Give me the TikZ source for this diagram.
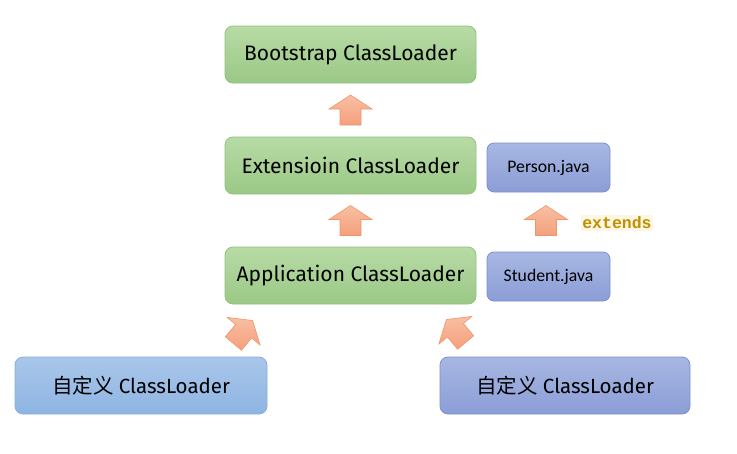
\documentclass[tikz,border=0pt]{standalone}
\usepackage{fontspec}
\setmainfont{Fira Sans}
\newfontfamily\cjkfont{Noto Sans CJK SC}
\newfontfamily\calfont{Carlito}
\newfontfamily\codefont{Liberation Mono}
\definecolor{gtop}{HTML}{B7DBA5}
\definecolor{gbot}{HTML}{9BC886}
\definecolor{gline}{HTML}{93C27E}
\definecolor{btop}{HTML}{A9C6EA}
\definecolor{bbot}{HTML}{8EB5E3}
\definecolor{bline}{HTML}{86AEE0}
\definecolor{ptop}{HTML}{A8B7E2}
\definecolor{pbot}{HTML}{8A9DD6}
\definecolor{pline}{HTML}{7C91CF}
\definecolor{atop}{HTML}{F8BFA2}
\definecolor{abot}{HTML}{F4A07C}
\definecolor{aline}{HTML}{F39468}
\definecolor{extc}{HTML}{BF9000}
\definecolor{extbg}{HTML}{FDF6E3}
\tikzset{
  greenbox/.style={draw=gline, line width=0.8pt, rounded corners=8pt, top color=gtop, bottom color=gbot,
    minimum width=251pt, minimum height=57pt, font=\fontsize{21}{23}\selectfont, inner sep=0pt},
  bluebox/.style={draw=bline, line width=0.8pt, rounded corners=8pt, top color=btop, bottom color=bbot,
    minimum width=252pt, minimum height=57pt, font=\fontsize{20.5}{23}\selectfont, inner sep=0pt},
  purplebox/.style={draw=pline, line width=0.8pt, rounded corners=8pt, top color=ptop, bottom color=pbot,
    minimum width=250pt, minimum height=57pt, font=\fontsize{20.5}{23}\selectfont, inner sep=0pt},
  javabox/.style={draw=pline, line width=0.8pt, rounded corners=7pt, top color=ptop, bottom color=pbot,
    minimum width=123pt, minimum height=49pt, font=\calfont\fontsize{17.7}{20}\selectfont, inner sep=0pt},
  extlabel/.style={fill=extbg, text=extc, font=\codefont\bfseries\fontsize{16.5}{18}\selectfont,
    inner xsep=1pt, inner ysep=2pt},
  pics/blockarrow/.style={code={
    \path[draw=aline, line width=0.6pt, top color=atop, bottom color=abot, line join=miter]
      (0,-15) -- (21.5,-1) -- (10.5,-1) -- (10.5,15) -- (-10.5,15) -- (-10.5,-1) -- (-21.5,-1) -- cycle;
  }}
}
\begin{document}
\begin{tikzpicture}[x=1pt,y=-1pt]
\useasboundingbox (0,0) rectangle (737,453);
\node[greenbox] (boot) at (350.5,54.5) {Bootstrap ClassLoader};
\node[greenbox] (ext) at (350.5,165.5) {Extensioin ClassLoader};
\node[greenbox] (app) at (350.5,275.5) {Application ClassLoader};
\node[javabox] (person) at (548.5,167.5) {Person.java};
\node[javabox] (student) at (548.5,276.5) {Student.java};
\node[bluebox] (cl1) at (141,385.5) {{\cjkfont 自定义} ClassLoader};
\node[purplebox] (cl2) at (565,385.5) {{\cjkfont 自定义} ClassLoader};
\pic at (350.5,110) {blockarrow};
\pic at (350.5,220.5) {blockarrow};
\pic at (546,220.5) {blockarrow};
\pic[rotate=-40] at (243,332) {blockarrow};
\pic[rotate=40] at (456,331) {blockarrow};
\node[extlabel] (extends) at (617,223) {extends};
\end{tikzpicture}
\end{document}
